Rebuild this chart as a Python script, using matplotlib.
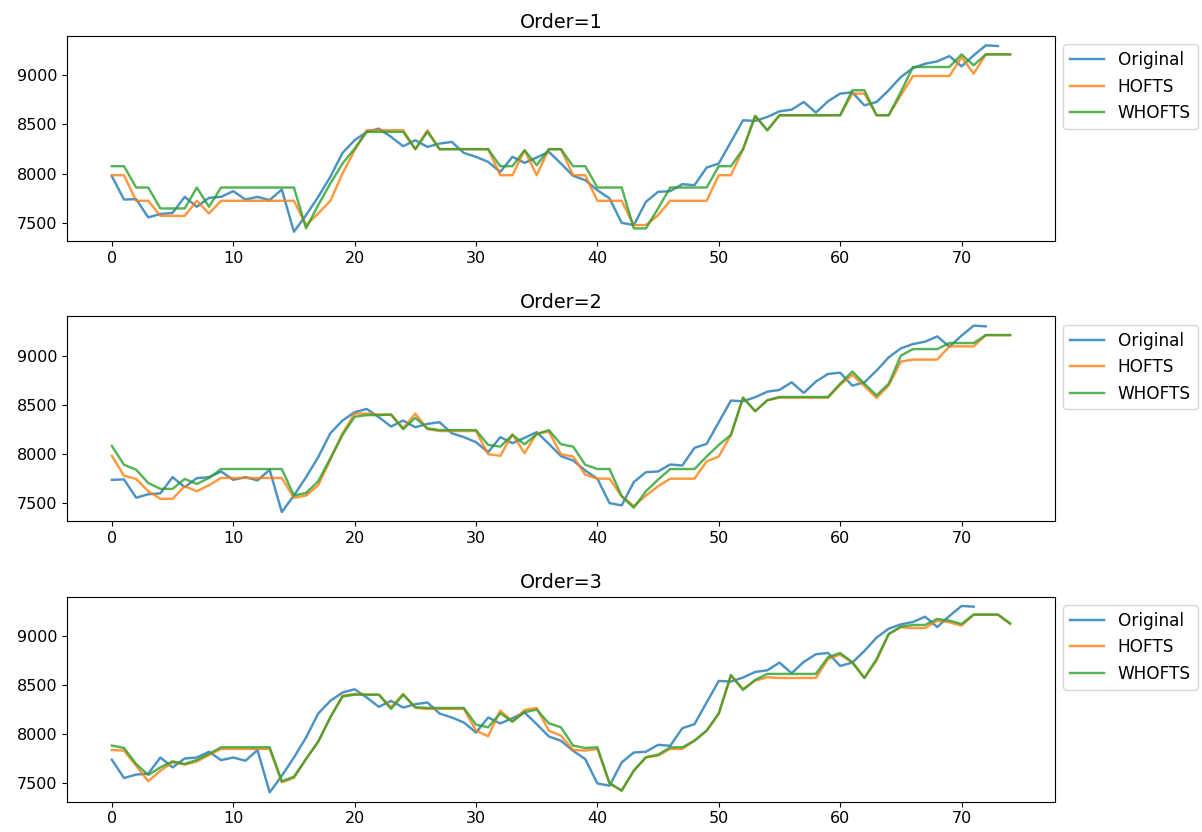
import numpy as np
import matplotlib
matplotlib.use("Agg")
import matplotlib.pyplot as plt

plt.rcParams["font.size"] = 11.5
plt.rcParams["lines.linewidth"] = 1.75

# test series (the order-1 panel shows it from index 1; higher orders drop one more point each)
original = [7974, 7737, 7741, 7555, 7590, 7600, 7764, 7663, 7754, 7764,
            7822, 7737, 7764, 7731, 7839, 7409, 7578, 7764, 7968, 8211,
            8340, 8425, 8458, 8374, 8279, 8340, 8272, 8306, 8323, 8211,
            8171, 8120, 8018, 8171, 8110, 8164, 8222, 8103, 7978, 7934,
            7832, 7748, 7500, 7477, 7714, 7815, 7822, 7893, 7883, 8062,
            8103, 8323, 8543, 8536, 8577, 8634, 8651, 8729, 8621, 8736,
            8814, 8827, 8695, 8729, 8848, 8983, 9074, 9118, 9142, 9196,
            9091, 9203, 9305, 9298]

hofts_1 = [7984, 7984, 7724, 7724, 7571, 7571, 7571, 7724, 7595, 7724,
           7724, 7724, 7724, 7724, 7724, 7724, 7477, 7595, 7724, 8001,
           8238, 8441, 8441, 8441, 8441, 8249, 8441, 8249, 8249, 8249,
           8249, 8249, 7984, 7984, 8238, 7984, 8249, 8249, 7984, 7984,
           7724, 7724, 7724, 7477, 7477, 7578, 7724, 7724, 7724, 7724,
           7984, 7984, 8249, 8587, 8441, 8594, 8594, 8594, 8594, 8594,
           8594, 8814, 8814, 8594, 8594, 8797, 8993, 8993, 8993, 8993,
           9186, 9017, 9213, 9213, 9213]
whofts_1 = [8076, 8076, 7859, 7859, 7646, 7646, 7646, 7859, 7663, 7859,
            7859, 7859, 7859, 7859, 7859, 7859, 7443, 7680, 7900, 8103,
            8255, 8425, 8425, 8425, 8425, 8249, 8425, 8249, 8249, 8249,
            8249, 8249, 8076, 8076, 8238, 8086, 8249, 8249, 8076, 8076,
            7859, 7859, 7859, 7443, 7443, 7646, 7859, 7859, 7859, 7859,
            8076, 8076, 8249, 8587, 8441, 8594, 8594, 8594, 8594, 8594,
            8594, 8848, 8848, 8594, 8594, 8831, 9085, 9085, 9085, 9085,
            9213, 9102, 9213, 9213, 9213]

hofts_2 = [7981, 7779, 7746, 7621, 7544, 7544, 7672, 7621, 7682, 7756,
           7756, 7756, 7756, 7756, 7756, 7554, 7577, 7682, 7941, 8210,
           8411, 8411, 8401, 8401, 8260, 8411, 8253, 8233, 8233, 8233,
           8233, 7998, 7981, 8200, 8008, 8210, 8227, 7998, 7974, 7789,
           7749, 7749, 7571, 7470, 7577, 7672, 7749, 7749, 7749, 7924,
           7974, 8193, 8573, 8435, 8546, 8573, 8573, 8573, 8573, 8573,
           8704, 8805, 8691, 8570, 8697, 8939, 8960, 8960, 8960, 9094,
           9094, 9094, 9209, 9209, 9209]
whofts_2 = [8082, 7890, 7840, 7705, 7645, 7645, 7746, 7695, 7756, 7847,
            7847, 7847, 7847, 7847, 7847, 7577, 7604, 7722, 7957, 8193,
            8378, 8395, 8395, 8401, 8253, 8368, 8260, 8243, 8243, 8243,
            8243, 8092, 8075, 8193, 8099, 8200, 8243, 8099, 8075, 7890,
            7847, 7847, 7571, 7453, 7621, 7739, 7847, 7847, 7847, 7974,
            8092, 8193, 8573, 8435, 8546, 8580, 8580, 8580, 8580, 8580,
            8714, 8839, 8714, 8596, 8714, 9000, 9067, 9067, 9067, 9128,
            9128, 9128, 9209, 9209, 9209]

hofts_3 = [7841, 7834, 7681, 7522, 7630, 7715, 7692, 7722, 7790, 7851,
           7851, 7851, 7851, 7851, 7512, 7556, 7749, 7925, 8173, 8393,
           8410, 8403, 8403, 8275, 8410, 8268, 8258, 8258, 8258, 8258,
           8037, 7980, 8241, 8129, 8247, 8268, 8037, 7986, 7841, 7834,
           7851, 7502, 7427, 7630, 7766, 7783, 7851, 7851, 7935, 8037,
           8207, 8596, 8461, 8546, 8580, 8573, 8573, 8573, 8573, 8766,
           8810, 8732, 8573, 8749, 9020, 9088, 9081, 9081, 9156, 9139,
           9105, 9217, 9217, 9217, 9122]
whofts_3 = [7885, 7861, 7698, 7586, 7664, 7725, 7698, 7739, 7800, 7868,
            7868, 7868, 7868, 7868, 7522, 7569, 7749, 7925, 8173, 8383,
            8403, 8403, 8403, 8258, 8403, 8275, 8268, 8268, 8268, 8268,
            8098, 8071, 8214, 8129, 8224, 8251, 8112, 8071, 7885, 7861,
            7868, 7502, 7427, 7630, 7766, 7793, 7868, 7868, 7935, 8037,
            8214, 8603, 8451, 8553, 8614, 8614, 8614, 8614, 8614, 8783,
            8827, 8732, 8573, 8766, 9020, 9095, 9112, 9112, 9173, 9156,
            9122, 9217, 9217, 9217, 9129]

orders = [1, 2, 3]
hofts = [hofts_1, hofts_2, hofts_3]
whofts = [whofts_1, whofts_2, whofts_3]

fig, axes = plt.subplots(3, 1, figsize=(12.02, 8.32), dpi=100)
fig.subplots_adjust(left=0.0557, right=0.8777, top=0.9567, bottom=0.0364, hspace=0.367)

for k, ax in enumerate(axes):
    order = orders[k]
    ax.plot(original[order - 1:], label="Original", alpha=0.8)
    ax.plot(hofts[k], label="HOFTS", alpha=0.8)
    ax.plot(whofts[k], label="WHOFTS", alpha=0.8)
    ax.set_title("Order=%d" % order)
    ax.legend(loc="upper left", bbox_to_anchor=(1, 1), fontsize=12.2)

plt.savefig("out.png")
